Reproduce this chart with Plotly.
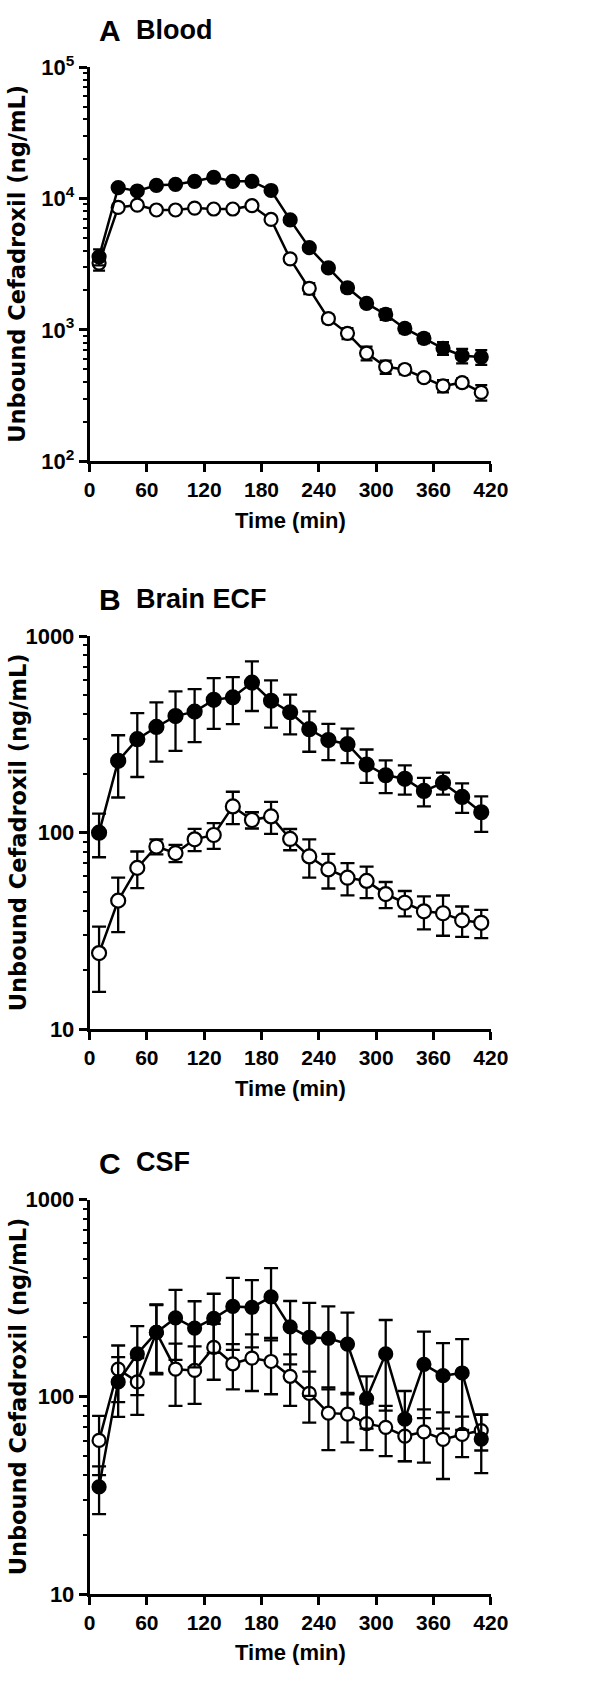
import plotly.graph_objects as go

# ---------------- data ----------------
time_min = [10, 30, 50, 70, 90, 110, 130, 150, 170, 190, 210,
            230, 250, 270, 290, 310, 330, 350, 370, 390, 410]

# Panel A: Blood
blood_filled = [3600, 12100, 11400, 12600, 12800, 13500, 14500, 13500, 13500, 11500, 6870,
                4220, 2960, 2090, 1590, 1310, 1024, 861, 724, 635, 621]
blood_filled_sd = [500, 600, 500, 500, 500, 500, 600, 500, 500, 500, 300,
                   200, 150, 150, 100, 120, 80, 70, 80, 80, 80]
blood_open = [3220, 8550, 8900, 8170, 8170, 8450, 8310, 8310, 8810, 6920, 3470,
              2070, 1216, 940, 665, 523, 499, 432, 374, 396, 334]
blood_open_sd = [400, 500, 500, 400, 400, 400, 400, 400, 500, 400, 200,
                 200, 90, 90, 80, 60, 40, 30, 40, 30, 45]

# Panel B: Brain ECF
ecf_filled = [100, 232, 299, 345, 392, 413, 474, 488, 580, 469, 410,
              336, 296, 282, 222, 196, 188, 163, 179, 152, 127]
ecf_filled_sd = [25, 81, 107, 115, 131, 124, 137, 131, 164, 127, 94,
                 78, 62, 56, 43, 37, 32, 27, 23, 26, 26]
ecf_open = [24.4, 45.1, 66.2, 85, 78.7, 92.5, 97.3, 136, 116, 121, 92.9,
            75.7, 65, 59, 56.8, 48.7, 44, 39.8, 38.9, 35.8, 34.8]
ecf_open_sd = [8.9, 13.9, 14, 7.5, 7.9, 12, 14.6, 25.5, 11, 22.5, 11.5,
               16.7, 13, 11, 10.4, 7.4, 6.5, 7.6, 9, 6.3, 5.7]

# Panel C: CSF
csf_filled = [34.9, 119, 165, 212, 251, 223, 250, 287, 284, 321, 226,
              200, 198, 185, 98, 165, 77, 146, 128, 132, 61]
csf_filled_sd = [9.5, 40, 63, 82, 97, 82, 83, 114, 106, 128, 80,
                 99, 89, 82, 29, 80, 30, 68, 59, 64, 20]
csf_open = [60.1, 138, 119, 212, 138, 136, 178, 147, 157, 151, 127,
            104, 82.6, 81.7, 73.1, 70, 63.2, 66.4, 60.8, 64.4, 67.4]
csf_open_sd = [20, 44, 38, 80, 48, 44, 56, 38, 50, 48, 37,
               30, 29, 23, 19.5, 20, 16, 20, 22.5, 15, 14]

x_ticks = [0, 60, 120, 180, 240, 300, 360, 420]
panel_letters = ["A", "B", "C"]
panel_names = ["Blood", "Brain ECF", "CSF"]
x_title = "Time (min)"
y_title = "Unbound Cefadroxil (ng/mL)"

# ---------------- layout geometry ----------------
W, H = 600, 1682
X0, X1 = 87, 505
panels_px = [(52, 453), (631, 1031), (1204.3, 1605.7)]
y_ranges = [[2, 5], [1, 3], [1, 3]]
y_tickvals = [[100, 1000, 10000, 100000], [10, 100, 1000], [10, 100, 1000]]
y_ticktext = [["10<sup>2</sup>", "10<sup>3</sup>", "10<sup>4</sup>", "10<sup>5</sup>"],
              ["10", "100", "1000"], ["10", "100", "1000"]]

def px(x):
    return x / W

def py(y):
    return 1 - y / H

FONT = "Liberation Sans, Arial"
BLACK = "#000000"

fig = go.Figure()

series = [
    (blood_open, blood_open_sd, blood_filled, blood_filled_sd),
    (ecf_open, ecf_open_sd, ecf_filled, ecf_filled_sd),
    (csf_open, csf_open_sd, csf_filled, csf_filled_sd),
]
msize = [13, 14, 13]
ewidth = [6, 7, 7]

for i, (yo, so, yf, sf) in enumerate(series):
    xa = "x" if i == 0 else f"x{i+1}"
    ya = "y" if i == 0 else f"y{i+1}"
    for yy, ss, fill in [(yo, so, "white"), (yf, sf, BLACK)]:
        fig.add_trace(go.Scatter(
            x=time_min, y=yy, xaxis=xa, yaxis=ya, mode="lines+markers",
            line=dict(color=BLACK, width=2.5),
            marker=dict(symbol="circle", size=msize[i], color=fill,
                        line=dict(color=BLACK, width=2.2)),
            error_y=dict(type="data", array=ss, visible=True, color=BLACK,
                         thickness=2.3, width=ewidth[i]),
            showlegend=False, cliponaxis=False,
        ))

layout = dict(
    width=W, height=H, margin=dict(l=0, r=0, t=0, b=0),
    paper_bgcolor="white", plot_bgcolor="white",
    font=dict(family=FONT, color=BLACK, size=20, weight="bold"),
    showlegend=False,
)

annotations = []
for i in range(3):
    top, bot = panels_px[i]
    sfx = "" if i == 0 else str(i + 1)
    lo, hi = y_ranges[i]
    minor_vals = [m * 10 ** e for e in range(lo, hi) for m in range(2, 10)]
    layout["xaxis" + sfx] = dict(
        domain=[px(X0), px(X1)], range=[0, 420], anchor="y" + sfx,
        tickmode="array", tickvals=x_ticks, ticks="outside", ticklen=8,
        tickwidth=2.5, tickcolor=BLACK, showline=True, linewidth=2.5,
        linecolor=BLACK, showgrid=False, zeroline=False,
        tickfont=dict(family=FONT, size=21, weight="bold", color=BLACK),
    )
    layout["yaxis" + sfx] = dict(
        domain=[py(bot), py(top)], type="log", range=[lo, hi], anchor="x" + sfx,
        tickmode="array", tickvals=y_tickvals[i], ticktext=y_ticktext[i],
        ticks="outside", ticklen=8, tickwidth=2.5, tickcolor=BLACK,
        minor=dict(tickmode="array", tickvals=minor_vals, ticks="outside",
                   ticklen=4, tickwidth=2, tickcolor=BLACK, showgrid=False),
        showline=True, linewidth=2.5, linecolor=BLACK, showgrid=False,
        zeroline=False,
        tickfont=dict(family=FONT, size=22, weight="bold", color=BLACK),
    )
    # x title
    annotations.append(dict(
        text=x_title, xref="paper", yref="paper", x=px((X0 + X1) / 2),
        y=py(bot + 60), xanchor="center", yanchor="middle", showarrow=False,
        font=dict(family=FONT, size=22, weight="bold", color=BLACK),
    ))
    # y title
    annotations.append(dict(
        text=y_title, xref="paper", yref="paper", x=px(12),
        y=py((top + bot) / 2), xanchor="center", yanchor="middle",
        textangle=-90, showarrow=False,
        font=dict(family="DejaVu Sans", size=22.5, weight="bold", color=BLACK),
    ))
    # panel title
    annotations.append(dict(
        text=panel_letters[i], xref="paper", yref="paper", x=px(95),
        y=py(top - 37), xanchor="left", yanchor="middle", showarrow=False,
        font=dict(family=FONT, size=30, weight="bold", color=BLACK),
    ))
    annotations.append(dict(
        text=panel_names[i], xref="paper", yref="paper", x=px(133),
        y=py(top - 38), xanchor="left", yanchor="middle", showarrow=False,
        font=dict(family=FONT, size=27, weight="bold", color=BLACK),
    ))

layout["annotations"] = annotations
fig.update_layout(**layout)
fig.write_html(
    "out.html",
    config={"displayModeBar": False},
    post_script="document.body.style.margin='0';document.body.style.padding='0';",
)
